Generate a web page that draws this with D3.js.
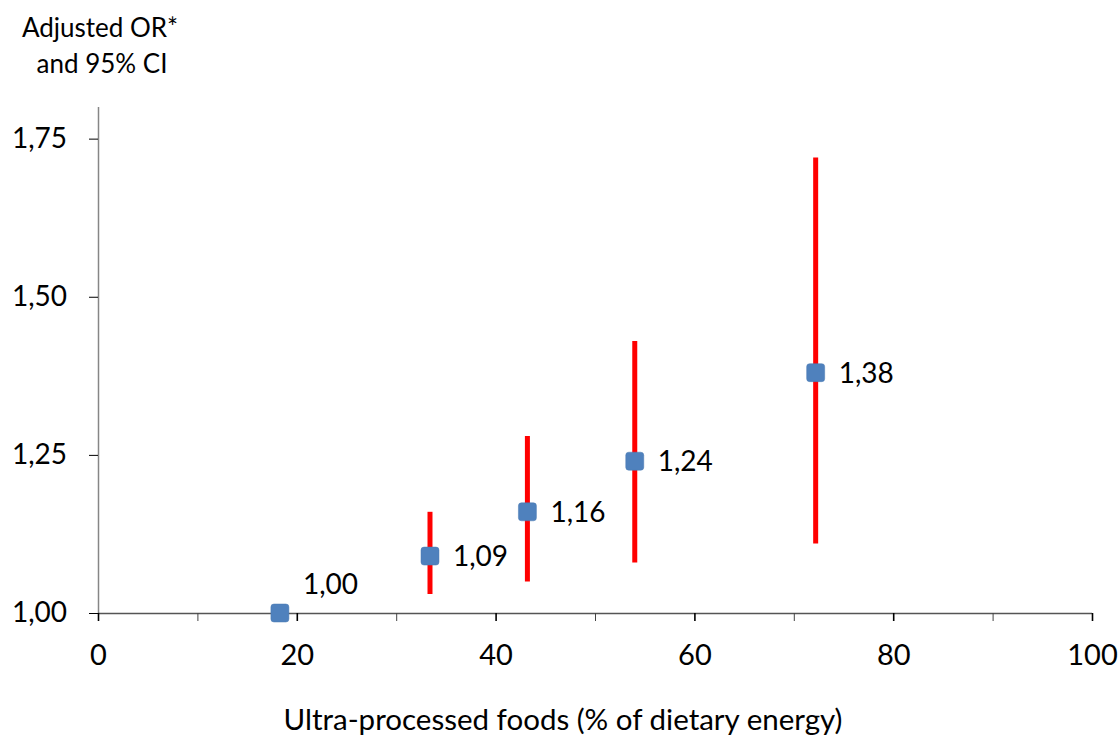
<!DOCTYPE html>
<html>
<head>
<meta charset="utf-8">
<script src="https://cdn.jsdelivr.net/npm/d3@7"></script>
<style>
  html, body { margin: 0; padding: 0; background: #fff; }
  svg { display: block; }
  text { font-family: Lato, "Open Sans", sans-serif; fill: #000; }
</style>
</head>
<body>
<svg id="chart" width="1120" height="738"></svg>
<script>
// Data
const upfShare = [18.3, 33.4, 43.2, 54.0, 72.2];     // % of dietary energy
const oddsRatio = [1.00, 1.09, 1.16, 1.24, 1.38];
const ciLower   = [1.00, 1.03, 1.05, 1.08, 1.11];
const ciUpper   = [1.00, 1.16, 1.28, 1.43, 1.72];
const labels    = ["1,00", "1,09", "1,16", "1,24", "1,38"];
const xTicks = [0, 10, 20, 30, 40, 50, 60, 70, 80, 90, 100];
const xTickLabels = [0, 20, 40, 60, 80, 100];
const yTicks = [1.00, 1.25, 1.50, 1.75];
const yTickLabels = ["1,00", "1,25", "1,50", "1,75"];

const svg = d3.select("#chart");
const margin = {left: 98, right: 28, top: 107, bottom: 125};
const W = 1120, H = 738;
const FONT = "Lato, 'Open Sans', sans-serif";

const x = d3.scaleLinear().domain([0, 100]).range([margin.left, W - margin.right]);
const y = d3.scaleLinear().domain([1.0, 1.8]).range([H - margin.bottom, margin.top]);

// Y axis
const yAxis = d3.axisLeft(y).tickValues(yTicks).tickSize(9).tickPadding(22)
  .tickFormat((d, i) => yTickLabels[i]);
const gy = svg.append("g").attr("transform", `translate(${margin.left},0)`).call(yAxis);
gy.select(".domain").attr("stroke", "#868686").attr("stroke-width", 1.5)
  .attr("d", `M0.5,${y(1.8)}V${y(1.0)}`);
gy.selectAll(".tick line").attr("stroke", "#000").attr("stroke-width", 1);
gy.selectAll(".tick text").style("font-size", "28px").attr("fill", "#000")
  .style("font-family", FONT);

// X axis
const xAxis = d3.axisBottom(x).tickValues(xTicks).tickSize(8).tickPadding(23)
  .tickFormat(d => xTickLabels.includes(d) ? String(d) : "");
const gx = svg.append("g").attr("transform", `translate(0,${y(1.0)})`).call(xAxis);
gx.select(".domain").attr("stroke", "#555").attr("stroke-width", 1.3)
  .attr("d", `M${x(0)},0.5H${x(100)}`);
gx.selectAll(".tick line")
  .attr("stroke", d => xTickLabels.includes(d) ? "#000" : "#444")
  .attr("stroke-width", d => xTickLabels.includes(d) ? 1.6 : 1);
gx.selectAll(".tick text").style("font-size", "29px").attr("fill", "#000")
  .style("font-family", FONT);

// CI bars
const idx = d3.range(upfShare.length);
svg.append("g").selectAll("line").data(idx.filter(i => ciUpper[i] > ciLower[i])).join("line")
  .attr("x1", i => x(upfShare[i])).attr("x2", i => x(upfShare[i]))
  .attr("y1", i => y(ciLower[i])).attr("y2", i => y(ciUpper[i]))
  .attr("stroke", "#ff0000").attr("stroke-width", 5);

// Markers
const ms = 18;
svg.append("g").selectAll("rect").data(idx).join("rect")
  .attr("x", i => x(upfShare[i]) - ms / 2).attr("y", i => y(oddsRatio[i]) - ms / 2)
  .attr("width", ms).attr("height", ms).attr("rx", 3)
  .attr("fill", "#4f81bd").attr("stroke", "#4a7ab3").attr("stroke-width", 0.5);

// Value labels
svg.append("g").selectAll("text").data(idx).join("text")
  .attr("x", i => x(upfShare[i]) + 23)
  .attr("y", i => y(oddsRatio[i]) + (i === 0 ? -29 : 0))
  .attr("dy", "0.36em")
  .style("font-size", "28px")
  .text(i => labels[i]);

// Axis titles
svg.append("text").attr("x", 563).attr("y", 730).attr("text-anchor", "middle")
  .style("font-size", "29.5px").text("Ultra-processed foods (% of dietary energy)");
svg.append("text").attr("x", 100).attr("y", 37).attr("text-anchor", "middle")
  .style("font-size", "26px").text("Adjusted OR*");
svg.append("text").attr("x", 102).attr("y", 73).attr("text-anchor", "middle")
  .style("font-size", "26px").text("and 95% CI");
</script>
</body>
</html>
